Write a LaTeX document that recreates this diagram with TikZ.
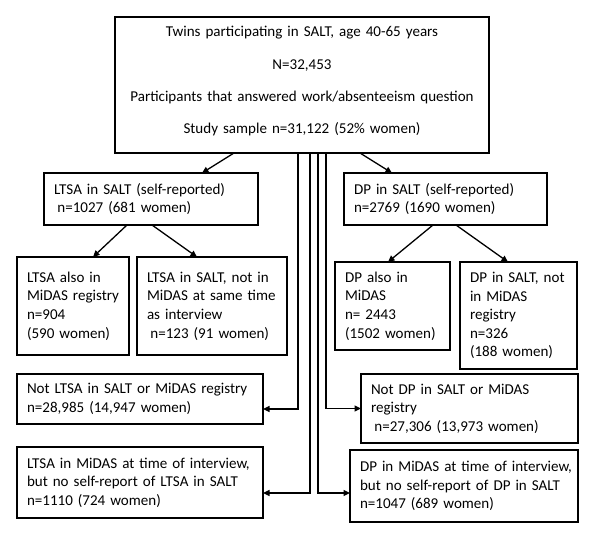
\documentclass[tikz,border=0pt]{standalone}
\usepackage{fontspec}
\setmainfont{Carlito}
\usetikzlibrary{arrows.meta,calc}
\begin{document}
\begin{tikzpicture}[x=1bp,y=-1bp,
  box/.style={draw, line width=1.1bp, anchor=north west, inner xsep=10bp, inner ysep=0bp,
    outer sep=0pt, align=left,
    font={\fontsize{15.1}{18.7}\selectfont\hyphenpenalty=10000 \exhyphenpenalty=10000 }},
  arr/.style={line width=1.3bp, -{Triangle[length=6.5bp,width=6bp]}}]
\useasboundingbox (0,0) rectangle (600,545);
\node[box, align=center, minimum width=374bp, minimum height=136bp, text width=354bp,
  font={\fontsize{15.1}{32.3}\selectfont\hyphenpenalty=10000 }] (top) at (115,17)
  {Twins participating in SALT, age 40-65 years\\ N=32,453\\ Participants~that~answered~work/absenteeism~question\\ Study sample n=31,122 (52\% women)\rule[-10bp]{0pt}{0pt}};
\node[box, minimum width=214bp, minimum height=52bp, text width=194bp] (ltsa) at (44,173)
  {LTSA in SALT (self-reported)\\ \hspace*{3.4bp}n=1027 (681 women)};
\node[box, minimum width=203bp, minimum height=52bp, text width=183bp] (dp) at (344,173)
  {DP in SALT (self-reported)\\ n=2769 (1690 women)};
\node[box, minimum width=112bp, minimum height=98bp, text width=92bp] (ltsaA) at (17,257)
  {LTSA~also~in\\ \mbox{MiDAS~registry}\\ n=904\\ (590~women)};
\node[box, minimum width=150bp, minimum height=98bp, text width=130bp] (ltsaB) at (137,257)
  {LTSA~in~SALT,~not~in\\ \mbox{MiDAS~at~same~time}\\ as~interview\\ \hspace*{3.4bp}n=123~(91~women)};
\node[box, minimum width=115bp, minimum height=88bp, text width=95bp] (dpA) at (335,262)
  {DP~also~in\\ MiDAS\\ n=~2443\\ \mbox{(1502~women)}};
\node[box, minimum width=117bp, minimum height=107bp, text width=97bp] (dpB) at (460,262)
  {DP~in~SALT,~not\\ in~MiDAS\\ registry\\ n=326\\ (188~women)};
\node[box, minimum width=246bp, minimum height=50bp, text width=226bp] (notltsa) at (17,374)
  {Not~LTSA~in~SALT~or~MiDAS~registry\\ n=28,985~(14,947~women)};
\node[box, minimum width=246bp, minimum height=71bp, text width=226bp] (ltsaM) at (17,447)
  {\mbox{LTSA~in~MiDAS~at~time~of~interview,}\\ \mbox{but~no~self-report~of~LTSA~in~SALT}\\ n=1110~(724~women)};
\node[box, minimum width=217bp, minimum height=69bp, text width=197bp] (notdp) at (361,374)
  {Not~DP~in~SALT~or~MiDAS\\ registry\\ \hspace*{3.4bp}n=27,306~(13,973~women)};
\node[box, minimum width=228bp, minimum height=72bp, text width=208bp] (dpM) at (350,450)
  {\mbox{DP~in~MiDAS~at~time~of~interview,}\\ \mbox{but~no~self-report~of~DP~in~SALT}\\ n=1047~(689~women)};
% diagonal arrows
\draw[arr] ([xshift=119bp]top.south west) -- ([xshift=158bp]ltsa.north west);
\draw[arr] ([xshift=245bp]top.south west) -- ([xshift=48bp]dp.north west);
\draw[arr] ([xshift=83bp]ltsa.south west) -- ([xshift=76bp]ltsaA.north west);
\draw[arr] ([xshift=108bp]ltsa.south west) -- ([xshift=60bp]ltsaB.north west);
\draw[arr] ([xshift=89bp]dp.south west) -- ([xshift=53bp]dpA.north west);
\draw[arr] ([xshift=112bp]dp.south west) -- ([xshift=48bp]dpB.north west);
% elbow arrows
\draw[arr] ([xshift=183bp]top.south west) |- ([yshift=-10bp]notltsa.east);
\draw[arr] ([xshift=195bp]top.south west) |- ([yshift=-10.5bp]ltsaM.east);
\draw[arr] ([xshift=203bp]top.south west) |- ([yshift=-7bp]dpM.west);
\draw[arr] ([xshift=211bp]top.south west) |- (notdp.west);
\end{tikzpicture}
\end{document}
